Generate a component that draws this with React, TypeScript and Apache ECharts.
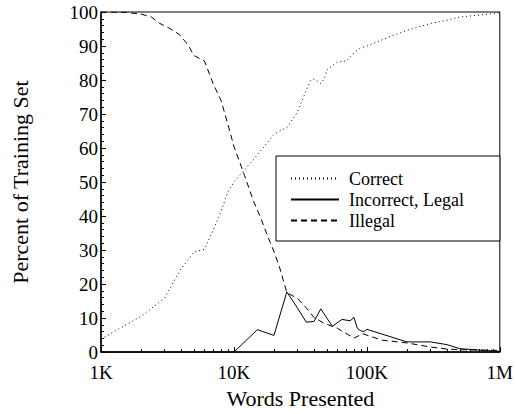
import React, { useEffect, useRef } from "react";
import * as echarts from "echarts";

// Words presented (thousands) and percentages per series
const correctWords = [1, 2, 3, 4, 5, 6, 7, 8, 9, 10, 12, 15, 20, 22, 25, 30, 35, 38, 40, 45, 48, 50, 60, 70, 80, 90, 100, 150, 200, 300, 400, 500, 700, 1000];
const correctValues = [3.8, 10.5, 15.8, 24.5, 29.4, 30.2, 36, 41.5, 47, 50, 53.5, 58, 64, 65, 66, 70.5, 77, 80, 80.3, 79, 80.5, 83, 85.3, 85.6, 88, 89.5, 90, 92.8, 94.6, 96.6, 97.6, 98.5, 99.1, 99.8];

const incorrectWords = [1, 10, 15, 20, 25, 30, 35, 40, 45, 55, 65, 75, 80, 85, 90, 95, 100, 200, 300, 400, 500, 700, 1000];
const incorrectValues = [0, 0, 6.6, 4.9, 17.7, 13, 8.8, 9, 12.7, 7.6, 9.6, 9.2, 10.2, 6.9, 6.3, 6.0, 6.7, 3.0, 3.0, 2.2, 1.0, 0.6, 0.2];

const illegalWords = [1, 1.5, 2, 2.4, 2.75, 3.35, 3.9, 4.5, 5, 6, 7, 8, 9, 10, 12, 14, 16, 18, 20, 22, 25, 30, 35, 40, 47, 60, 80, 93, 130, 200, 300, 400, 500, 1000];
const illegalValues = [100, 99.9, 99.4, 98.5, 96.7, 95, 93.3, 90.4, 87.2, 85.6, 78.8, 74, 67, 60.5, 52, 44.5, 39.2, 33.9, 29.6, 25, 17.5, 15.8, 13, 10.2, 8.6, 7, 4.1, 5.4, 3.5, 2.7, 1.5, 0.9, 0.7, 0.5];

const xTickValues = [1000, 10000, 100000, 1000000];
const xTickLabels = ["1K", "10K", "100K", "1M"];
const xMinorTickValues = [2000, 3000, 4000, 5000, 6000, 7000, 8000, 9000, 20000, 30000, 40000, 50000, 60000, 70000, 80000, 90000, 200000, 300000, 400000, 500000, 600000, 700000, 800000, 900000];

const seriesNames = ["Correct", "Incorrect, Legal", "Illegal"];

const FONT = "Liberation Serif";

function pairs(words: number[], values: number[]) {
  return words.map((w, i) => [w * 1000, values[i]]);
}

export default function App() {
  const ref = useRef<HTMLDivElement>(null);
  useEffect(() => {
    if (!ref.current) return;
    const chart = echarts.init(ref.current, null, { renderer: "svg" });
    const labelFor = (v: number) => {
      const i = xTickValues.findIndex((t) => Math.abs(t - v) / t < 1e-6);
      return i >= 0 ? xTickLabels[i] : "";
    };
    chart.setOption({
      animation: false,
      grid: {
        left: 101,
        right: 11,
        top: 12,
        bottom: 57,
        show: true,
        borderColor: "#000",
        borderWidth: 1,
      },
      legend: {
        orient: "vertical",
        left: 276,
        top: 156,
        padding: [12, 36, 10, 14],
        itemGap: 0,
        itemWidth: 48,
        itemHeight: 14,
        borderColor: "#000",
        borderWidth: 1,
        backgroundColor: "#fff",
        data: seriesNames,
        itemStyle: { opacity: 0 },
        textStyle: {
          fontFamily: FONT,
          fontSize: 18,
          color: "#000",
          lineHeight: 21,
          padding: [0, 0, 0, 5],
        },
      },
      xAxis: [
        {
          type: "log",
          logBase: 10,
          min: 1000,
          max: 1000000,
          name: "Words Presented",
          nameLocation: "middle",
          nameGap: 33,
          nameTextStyle: { fontFamily: FONT, fontSize: 22, color: "#000" },
          axisLine: { show: true, lineStyle: { color: "#000", width: 1.5 } },
          axisTick: { show: true, inside: true, length: 5, lineStyle: { color: "#000" }, customValues: xTickValues },
          axisLabel: {
            fontFamily: FONT,
            fontSize: 19,
            color: "#000",
            margin: 11,
            customValues: xTickValues,
            formatter: (v: number) => labelFor(v),
          },
          splitLine: { show: false },
          minorTick: { show: false },
        },
        {
          type: "log",
          logBase: 10,
          min: 1000,
          max: 1000000,
          position: "bottom",
          offset: 0,
          axisLine: { show: false },
          axisTick: { show: true, inside: true, length: 3, lineStyle: { color: "#000" }, customValues: xMinorTickValues },
          axisLabel: { show: false },
          splitLine: { show: false },
        },
      ],
      yAxis: {
        type: "value",
        min: 0,
        max: 100,
        interval: 10,
        name: "Percent of Training Set",
        nameLocation: "middle",
        nameGap: 70,
        nameTextStyle: { fontFamily: FONT, fontSize: 22, color: "#000" },
        axisLine: { show: true, lineStyle: { color: "#000", width: 1.5 } },
        axisTick: { show: true, inside: true, length: 5, lineStyle: { color: "#000" } },
        minorTick: { show: true, splitNumber: 5, length: 3, lineStyle: { color: "#000" } },
        axisLabel: { fontFamily: FONT, fontSize: 19, color: "#000", margin: 3 },
        splitLine: { show: false },
      },
      series: [
        {
          name: seriesNames[0],
          type: "line",
          symbol: "none",
          data: pairs(correctWords, correctValues),
          lineStyle: { color: "#000", width: 1, type: [1, 3] },
          itemStyle: { color: "#000" },
        },
        {
          name: seriesNames[1],
          type: "line",
          symbol: "none",
          data: pairs(incorrectWords, incorrectValues),
          lineStyle: { color: "#000", width: 1, type: "solid" },
          itemStyle: { color: "#000" },
        },
        {
          name: seriesNames[2],
          type: "line",
          symbol: "none",
          data: pairs(illegalWords, illegalValues),
          lineStyle: { color: "#000", width: 1, type: [6, 4] },
          itemStyle: { color: "#000" },
        },
      ],
    });
    return () => chart.dispose();
  }, []);
  return (
    <>
      <style>{`.chart-root svg text { font-family: "Liberation Serif", "Times New Roman", serif !important; }`}</style>
      <div
        ref={ref}
        className="chart-root"
        style={{ position: "absolute", left: 0, top: 0, width: 516, height: 414, background: "#fff" }}
      />
    </>
  );
}
